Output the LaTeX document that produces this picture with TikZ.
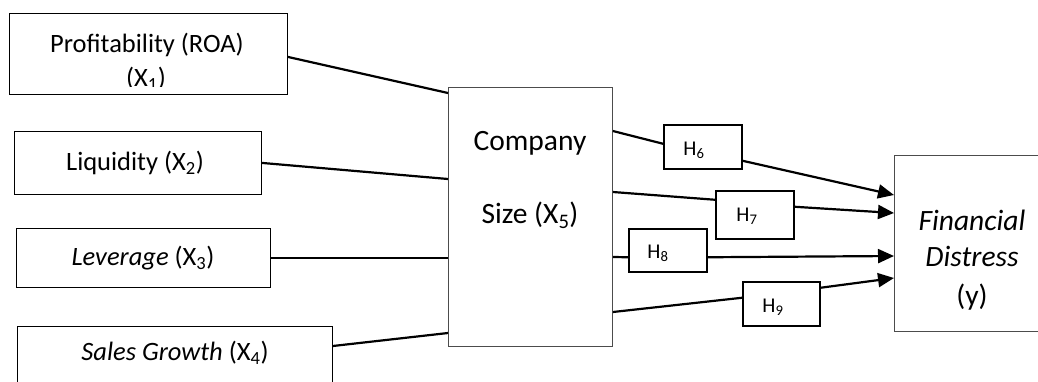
\documentclass[tikz,border=0pt]{standalone}
\usepackage{fontspec}
\setmainfont{Carlito}
\usetikzlibrary{arrows.meta,calc}

\begin{document}
\begin{tikzpicture}[x=1pt,y=-1pt,
  box/.style={draw, line width=0.8pt, inner sep=0pt, anchor=north west},
  sbox/.style={draw=black!70, line width=0.9pt, inner sep=0pt, anchor=north west},
  hbox/.style={draw, line width=1.5pt, inner sep=0pt, anchor=north west},
  link/.style={line width=2.2pt},
  arr/.style={line width=2.2pt, -{Triangle[length=16pt,width=14pt]}},
  lbl/.style={inner sep=0pt, font=\fontsize{26.5}{32}\selectfont},
  big/.style={inner sep=0pt, font=\fontsize{29.5}{35}\selectfont},
  hl/.style={inner sep=0pt, font=\fontsize{21}{25}\selectfont}]
\useasboundingbox (0,0) rectangle (1038,381);
\begin{scope}
\clip (0,0) rectangle (1038,381);

% independent variables
\node[box, minimum width=278pt, minimum height=81pt] (p) at (9,13) {};
\node[box, minimum width=247pt, minimum height=63pt] (lq) at (14,131) {};
\node[box, minimum width=254pt, minimum height=59pt] (lv) at (16,228) {};
\node[box, minimum width=315pt, minimum height=70pt] (sg) at (17,326) {};

\node[lbl] (pt1) at (147,45) {Profitability (ROA)};
\begin{scope}
  \clip (9,13) rectangle (287,86);
  \node[lbl] (pt2) at (146,79) {(X\textsubscript{1})};
\end{scope}
\node[lbl] (lqt) at (135,163) {Liquidity (X\textsubscript{2})};
\node[lbl] (lvt) at (143,258) {\textit{Leverage} (X\textsubscript{3})};
\node[lbl] (sgt) at (175,353) {\textit{Sales Growth} (X\textsubscript{4})};

% moderating variable
\node[sbox, minimum width=164pt, minimum height=259pt] (cs) at (448,87) {};
\node[big] (cst1) at (530,143) {Company};
\node[big] (cst2) at (530,215) {Size (X\textsubscript{5})};

% dependent variable
\node[sbox, minimum width=160pt, minimum height=176pt] (f) at (894,155) {};
\node[big] (ft1) at (972,220) {\textit{Financial}};
\node[big] (ft2) at (972,256) {\textit{Distress}};
\node[big] (ft3) at (972,297) {(y)};

% hypothesis boxes
\node[hbox, minimum width=78pt, minimum height=44pt] (h6) at (663,124) {};
\node[hbox, minimum width=78pt, minimum height=48pt] (h7) at (715,190) {};
\node[hbox, minimum width=78pt, minimum height=43pt] (h8) at (628,228) {};
\node[hbox, minimum width=77pt, minimum height=44pt] (h9) at (742,281) {};
\node[hl] (h6t) at (694,150) {H\textsubscript{6}};
\node[hl] (h7t) at (747,216) {H\textsubscript{7}};
\node[hl] (h8t) at (658,253) {H\textsubscript{8}};
\node[hl] (h9t) at (773,307) {H\textsubscript{9}};

% paths into company size
\draw[link] ($(p.east)+(0,3)$) -- ($(cs.north west)+(0,6)$);
\draw[link] (lq.east) -- ($(cs.north west)+(0,92)$);
\draw[link] (lv.east) -- (lv.east -| cs.west);
\draw[link] ($(sg.north east)+(0,20)$) -- ($(cs.north west)+(0,246)$);

% paths through the hypotheses
\draw[link] ($(cs.north east)+(0,44)$) -- ($(h6.west)+(0,-3)$);
\draw[arr] ($(h6.east)+(0,14)$) -- ($(f.north west)+(0,40)$);
\draw[link] ($(cs.north east)+(0,105)$) -- ($(h7.west)+(0,-15)$);
\draw[arr] ($(h7.east)+(0,-8)$) -- ($(f.north west)+(0,58)$);
\draw[link] ($(cs.north east)+(0,170)$) -- ($(h8.west)+(0,7)$);
\draw[arr] ($(h8.east)+(0,7)$) -- ($(f.north west)+(0,101)$);
\draw[link] ($(cs.north east)+(0,225)$) -- ($(h9.west)+(0,-6)$);
\draw[arr] ($(h9.east)+(0,-16)$) -- ($(f.north west)+(0,123)$);
\end{scope}
\end{tikzpicture}
\end{document}
